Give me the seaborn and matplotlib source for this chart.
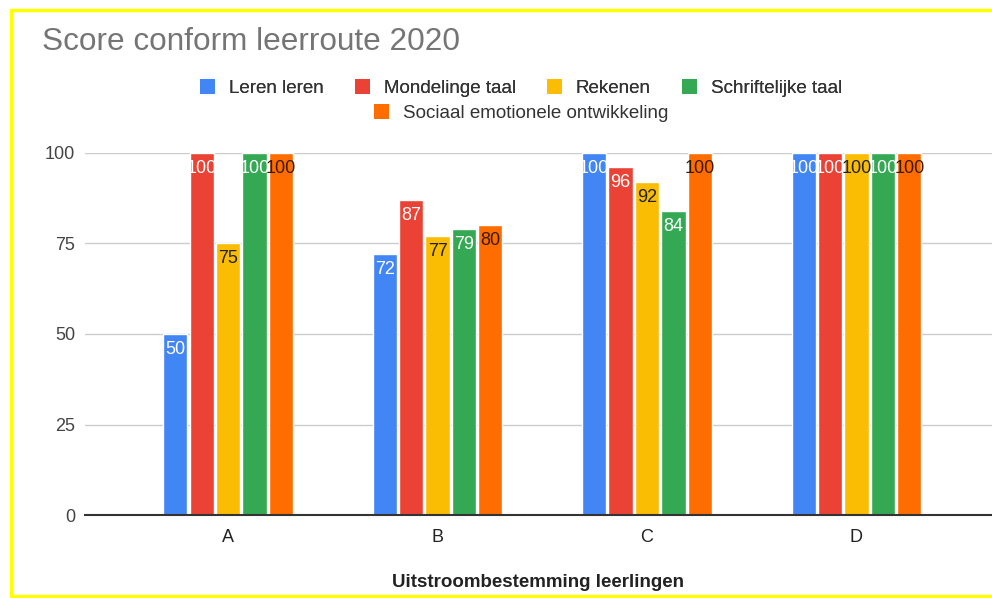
import numpy as np
import pandas as pd
import matplotlib
matplotlib.use("Agg")
import matplotlib.pyplot as plt
from matplotlib.lines import Line2D
from matplotlib.patches import Patch
import seaborn as sns

# data
groups = ["A", "B", "C", "D"]
subjects = ["Leren leren", "Mondelinge taal", "Rekenen", "Schriftelijke taal",
            "Sociaal emotionele ontwikkeling"]
leren_leren = [50, 72, 100, 100]
mondelinge_taal = [100, 87, 96, 100]
rekenen = [75, 77, 92, 100]
schriftelijke_taal = [100, 79, 84, 100]
sociaal_emotioneel = [100, 80, 100, 100]

colors = ["#4285F4", "#EA4335", "#FBBC04", "#34A853", "#FF6D01"]
label_colors = ["white", "white", "#202124", "white", "#3a1a00"]

series = [leren_leren, mondelinge_taal, rekenen, schriftelijke_taal, sociaal_emotioneel]
df = pd.DataFrame({
    "groep": np.repeat([groups], len(subjects), axis=0).ravel(),
    "vak": np.repeat(subjects, len(groups)),
    "score": np.concatenate(series),
})

sns.set_style("white")
plt.rcParams["font.family"] = ["Liberation Sans", "DejaVu Sans"]

fig = plt.figure(figsize=(9.92, 5.98), dpi=100)
ax = fig.add_axes([85 / 992, 83 / 598, 1 - 85 / 992, 362 / 598])

sns.barplot(data=df, x="groep", y="score", hue="vak", hue_order=subjects,
            palette=colors, width=0.63, gap=0.08, saturation=1,
            legend=False, ax=ax, zorder=3)

for cont, lc in zip(ax.containers, label_colors):
    ax.bar_label(cont, fmt="%d", label_type="edge", padding=-17,
                 color=lc, fontsize=13, zorder=4)

ax.set_ylim(0, 100)
ax.set_xlim(-0.683, 3.647)
ax.set_yticks([0, 25, 50, 75, 100])
ax.yaxis.grid(True, color="#cccccc", linewidth=1, zorder=0)
for s in ["top", "right", "left"]:
    ax.spines[s].set_visible(False)
ax.spines["bottom"].set_color("#333333")
ax.spines["bottom"].set_linewidth(1.5)
ax.spines["bottom"].set_zorder(5)
ax.tick_params(axis="both", length=0, labelsize=13, colors="#444444")
ax.tick_params(axis="x", pad=10, labelcolor="#222222")
ax.tick_params(axis="y", pad=7)
ax.set_ylabel("")
ax.set_xlabel("Uitstroombestemming leerlingen", fontsize=13.5, fontweight="bold",
              color="#222222")
ax.xaxis.set_label_coords(0.5, -0.162)

fig.text(42 / 992, 1 - 42 / 598, "Score conform leerroute 2020", fontsize=22.7,
         color="#757575", va="center", ha="left")

handles = [Patch(facecolor=c, edgecolor="none") for c in colors]
leg_kw = dict(loc="center", frameon=False, fontsize=13.5, handlelength=0.8,
              handleheight=0.8, handletextpad=0.75, labelcolor="#333333")
leg1 = fig.legend(handles[:4], subjects[:4], ncol=4, columnspacing=1.65,
                  bbox_to_anchor=(521 / 992, 1 - 88 / 598), **leg_kw)
fig.add_artist(leg1)
fig.legend(handles[4:], subjects[4:],
           bbox_to_anchor=(521 / 992, 1 - 113 / 598), **leg_kw)

# yellow frame round the screenshot
for xs, ys in [([11, 992], [10, 10]), ([11, 11], [10, 596]), ([11, 992], [596, 596])]:
    fig.add_artist(Line2D([x / 992 for x in xs], [1 - y / 598 for y in ys],
                          color="#FFFF00", linewidth=2.5))

fig.savefig("out.png", dpi=100)
